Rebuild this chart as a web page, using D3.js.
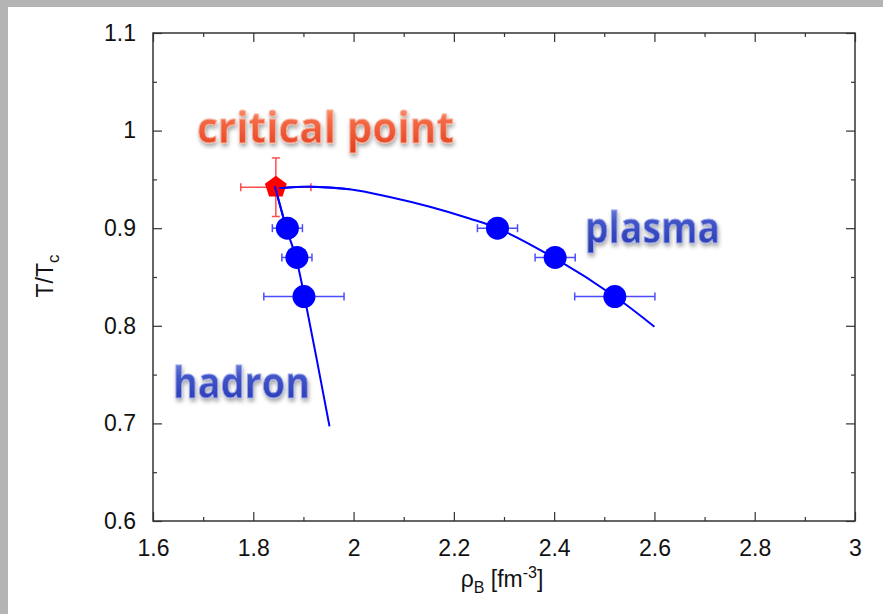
<!DOCTYPE html>
<html>
<head>
<meta charset="utf-8">
<script src="https://cdn.jsdelivr.net/npm/d3@7"></script>
<style>
  body { margin: 0; background: #fff; }
  svg { display: block; }
</style>
</head>
<body>
<div id="chart"></div>
<script>
// tick labels
var rhoTicks = [1.6, 1.8, 2, 2.2, 2.4, 2.6, 2.8, 3];
var rhoMinor = [1.7, 1.9, 2.1, 2.3, 2.5, 2.7, 2.9];
var tTicks = [0.6, 0.7, 0.8, 0.9, 1, 1.1];
var tMinor = [0.65, 0.75, 0.85, 0.95, 1.05];

// critical point
var critRho = 1.845, critT = 0.942, critErrRho = 0.07, critErrT = 0.03;

// hadron side points
var hadronRho = [1.868, 1.887, 1.901];
var hadronT = [0.90, 0.87, 0.83];
var hadronErr = [0.03, 0.03, 0.08];

// plasma side points
var plasmaRho = [2.287, 2.402, 2.521];
var plasmaT = [0.90, 0.87, 0.83];
var plasmaErr = [0.04, 0.04, 0.08];

// boundary lines
var hadronLineRho = [1.843, 1.866, 1.885, 1.902, 1.952];
var hadronLineT = [0.943, 0.90, 0.87, 0.83, 0.697];
var plasmaLineRho = [1.852, 1.913, 1.992, 2.072, 2.152, 2.231, 2.287, 2.402, 2.521, 2.60];
var plasmaLineT = [0.941, 0.9425, 0.940, 0.932, 0.922, 0.910, 0.90, 0.869, 0.830, 0.799];

var W = 883, H = 614;
var margin = {top: 33, right: 28, bottom: 93, left: 153},
  width = W - margin.left - margin.right,
  height = H - margin.top - margin.bottom;

var root = d3.select("#chart").append("svg")
  .attr("width", W)
  .attr("height", H);

// grey frame of the slide
root.append("rect").attr("x", 0).attr("y", 0).attr("width", W).attr("height", 7).attr("fill", "#b4b4b4");
root.append("rect").attr("x", 0).attr("y", 0).attr("width", 8).attr("height", H).attr("fill", "#b4b4b4");

var defs = root.append("defs");
var gRed = defs.append("linearGradient").attr("id", "gRed").attr("x1", 0).attr("y1", 0).attr("x2", 0).attr("y2", 1);
gRed.append("stop").attr("offset", "0%").attr("stop-color", "#fcb79e");
gRed.append("stop").attr("offset", "40%").attr("stop-color", "#f36a47");
gRed.append("stop").attr("offset", "100%").attr("stop-color", "#e0391a");
var gBlue = defs.append("linearGradient").attr("id", "gBlue").attr("x1", 0).attr("y1", 0).attr("x2", 0).attr("y2", 1);
gBlue.append("stop").attr("offset", "0%").attr("stop-color", "#94a0e8");
gBlue.append("stop").attr("offset", "40%").attr("stop-color", "#4356c8");
gBlue.append("stop").attr("offset", "100%").attr("stop-color", "#2233ad");
var shadow = defs.append("filter").attr("id", "shadow").attr("x", "-10%").attr("y", "-20%").attr("width", "130%").attr("height", "160%");
shadow.append("feGaussianBlur").attr("in", "SourceAlpha").attr("stdDeviation", 2).attr("result", "b");
shadow.append("feOffset").attr("in", "b").attr("dx", 1).attr("dy", 3).attr("result", "o");
shadow.append("feComponentTransfer").attr("in", "o").attr("result", "s")
  .append("feFuncA").attr("type", "linear").attr("slope", 0.35);
var merge = shadow.append("feMerge");
merge.append("feMergeNode").attr("in", "s");
merge.append("feMergeNode").attr("in", "SourceGraphic");

var svg = root.append("g")
  .attr("transform", "translate(" + margin.left + "," + margin.top + ")");

var x = d3.scaleLinear().domain([1.6, 3]).range([0, width]);
var y = d3.scaleLinear().domain([0.6, 1.1]).range([height, 0]);

function styleAxis(g) {
  g.select(".domain").remove();
  g.selectAll(".tick line").attr("stroke", "#333").attr("stroke-width", 1.2);
  g.selectAll(".tick text")
    .attr("fill", "#111")
    .style("font-family", "'Liberation Sans', Arial, sans-serif")
    .style("font-size", "23px");
}

// minor ticks
svg.append("g").attr("transform", "translate(0," + height + ")")
  .call(d3.axisBottom(x).tickValues(rhoMinor).tickSize(-4).tickFormat("")).call(styleAxis);
svg.append("g")
  .call(d3.axisTop(x).tickValues(rhoMinor).tickSize(-4).tickFormat("")).call(styleAxis);
svg.append("g")
  .call(d3.axisLeft(y).tickValues(tMinor).tickSize(-4).tickFormat("")).call(styleAxis);
svg.append("g").attr("transform", "translate(" + width + ",0)")
  .call(d3.axisRight(y).tickValues(tMinor).tickSize(-4).tickFormat("")).call(styleAxis);

// major ticks
svg.append("g").attr("transform", "translate(0," + height + ")")
  .call(d3.axisBottom(x).tickValues(rhoTicks).tickSize(-9).tickPadding(19).tickFormat(d3.format("~g")))
  .call(styleAxis);
svg.append("g")
  .call(d3.axisTop(x).tickValues(rhoTicks).tickSize(-9).tickFormat("")).call(styleAxis);
svg.append("g")
  .call(d3.axisLeft(y).tickValues(tTicks).tickSize(-9).tickPadding(17).tickFormat(d3.format("~g")))
  .call(styleAxis);
svg.append("g").attr("transform", "translate(" + width + ",0)")
  .call(d3.axisRight(y).tickValues(tTicks).tickSize(-9).tickFormat("")).call(styleAxis);

// frame
svg.append("rect")
  .attr("width", width).attr("height", height)
  .attr("fill", "none").attr("stroke", "#333").attr("stroke-width", 1.5);

// axis titles
var xt = root.append("text")
  .attr("x", 502).attr("y", 587)
  .attr("text-anchor", "middle")
  .style("font-family", "'Liberation Sans', Arial, sans-serif")
  .style("font-size", "23px").attr("fill", "#111");
xt.append("tspan").text("ρ");
xt.append("tspan").attr("dy", 6).style("font-size", "16px").text("B");
xt.append("tspan").attr("dy", -6).text(" [fm");
xt.append("tspan").attr("dy", -9).style("font-size", "16px").text("-3");
xt.append("tspan").attr("dy", 9).text("]");

var yt = root.append("text")
  .attr("transform", "translate(53,276) rotate(-90)")
  .attr("text-anchor", "middle")
  .style("font-family", "'Liberation Sans', Arial, sans-serif")
  .style("font-size", "23px").attr("fill", "#111");
yt.append("tspan").text("T/T");
yt.append("tspan").attr("dy", 6).style("font-size", "17px").text("c");

// lines
var line = d3.line()
  .x(function(d) { return x(d[0]); })
  .y(function(d) { return y(d[1]); })
  .curve(d3.curveCatmullRom);

svg.append("path")
  .datum(d3.zip(plasmaLineRho, plasmaLineT))
  .attr("d", line)
  .attr("fill", "none").attr("stroke", "#0000ff").attr("stroke-width", 2);
svg.append("path")
  .datum(d3.zip(hadronLineRho, hadronLineT))
  .attr("d", line)
  .attr("fill", "none").attr("stroke", "#0000ff").attr("stroke-width", 2);

// error bars
function hBar(cx, cy, e, color) {
  var g = svg.append("g").attr("stroke", color).attr("stroke-width", 1.5);
  g.append("line").attr("x1", x(cx - e)).attr("x2", x(cx + e)).attr("y1", y(cy)).attr("y2", y(cy));
  g.append("line").attr("x1", x(cx - e)).attr("x2", x(cx - e)).attr("y1", y(cy) - 4).attr("y2", y(cy) + 4);
  g.append("line").attr("x1", x(cx + e)).attr("x2", x(cx + e)).attr("y1", y(cy) - 4).attr("y2", y(cy) + 4);
}
function vBar(cx, cy, e, color) {
  var g = svg.append("g").attr("stroke", color).attr("stroke-width", 1.5);
  g.append("line").attr("x1", x(cx)).attr("x2", x(cx)).attr("y1", y(cy - e)).attr("y2", y(cy + e));
  g.append("line").attr("x1", x(cx) - 4).attr("x2", x(cx) + 4).attr("y1", y(cy - e)).attr("y2", y(cy - e));
  g.append("line").attr("x1", x(cx) - 4).attr("x2", x(cx) + 4).attr("y1", y(cy + e)).attr("y2", y(cy + e));
}

hBar(critRho, critT, critErrRho, "#ff4d4d");
vBar(critRho, critT, critErrT, "#ff4d4d");

var pts = d3.zip(hadronRho, hadronT, hadronErr).concat(d3.zip(plasmaRho, plasmaT, plasmaErr));
pts.forEach(function(p) { hBar(p[0], p[1], p[2], "#4d4dff"); });

svg.selectAll("circle.pt")
  .data(pts)
  .enter().append("circle")
  .attr("class", "pt")
  .attr("cx", function(d) { return x(d[0]); })
  .attr("cy", function(d) { return y(d[1]); })
  .attr("r", 11.5)
  .attr("fill", "#0000ff");

// pentagon for the critical point
var pent = d3.range(5).map(function(i) {
  var a = -Math.PI / 2 + i * 2 * Math.PI / 5;
  return [11.5 * Math.cos(a), 11.5 * Math.sin(a)];
});
svg.append("path")
  .attr("transform", "translate(" + x(critRho) + "," + y(critT) + ")")
  .attr("d", d3.line().curve(d3.curveLinearClosed)(pent))
  .attr("fill", "#ff0000");
// lines start from the centre, drawn over the marker
svg.append("path")
  .datum(d3.zip(plasmaLineRho, plasmaLineT).slice(0, 3))
  .attr("d", line)
  .attr("fill", "none").attr("stroke", "#0000ff").attr("stroke-width", 2);
svg.append("path")
  .datum(d3.zip(hadronLineRho, hadronLineT).slice(0, 2))
  .attr("d", d3.line().x(function(d) { return x(d[0]); }).y(function(d) { return y(d[1]); }))
  .attr("fill", "none").attr("stroke", "#0000ff").attr("stroke-width", 2);

// glossy region labels
var labels = [
  {text: "critical point", x: 197, y: 143, w: 257, fill: "url(#gRed)", stroke: "#f8b09a"},
  {text: "plasma", x: 585, y: 243, w: 135, fill: "url(#gBlue)", stroke: "#9aa5ea"},
  {text: "hadron", x: 173, y: 398, w: 137, fill: "url(#gBlue)", stroke: "#9aa5ea"}
];
root.selectAll("text.lab")
  .data(labels)
  .enter().append("text")
  .attr("class", "lab")
  .attr("x", function(d) { return d.x; })
  .attr("y", function(d) { return d.y; })
  .attr("textLength", function(d) { return d.w; })
  .attr("lengthAdjust", "spacingAndGlyphs")
  .style("font-family", "'Open Sans', 'DejaVu Sans', sans-serif")
  .style("font-weight", "bold")
  .style("font-size", "43px")
  .attr("fill", function(d) { return d.fill; })
  .attr("stroke", function(d) { return d.stroke; })
  .attr("stroke-width", 1)
  .attr("filter", "url(#shadow)")
  .text(function(d) { return d.text; });
</script>
</body>
</html>
